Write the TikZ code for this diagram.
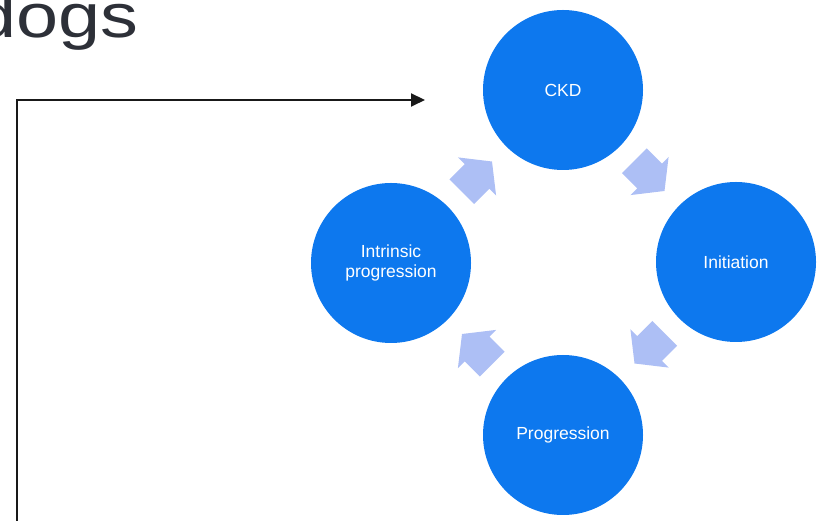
\documentclass[tikz,border=0pt]{standalone}
\usepackage{fontspec}
\setmainfont{Liberation Sans}
\usetikzlibrary{calc,arrows.meta}

\definecolor{stageblue}{RGB}{13,120,238}
\definecolor{flowblue}{RGB}{173,191,245}
\definecolor{titlegray}{RGB}{45,48,56}

\begin{document}
\begin{tikzpicture}
[
    x=1pt, y=1pt,
    stage/.style={circle, fill=stageblue, text=white, minimum size=160pt,
        inner sep=0pt, align=center, font=\fontsize{17.5}{19.5}\selectfont},
    cyclearrow/.pic={\fill[flowblue] (-21.5,-17.5) -- (0,-17.5) -- (0,-27)
        -- (21.2,0) -- (0,27) -- (0,17.5) -- (-21.5,17.5) -- cycle;},
]
\useasboundingbox (0,0) rectangle (821,521);
\node [anchor=base east, text=titlegray, inner sep=0pt, xscale=1.22,
    transform shape, font=\fontsize{62}{62}\selectfont]
    (title) at (139,483) {dogs};
% the four stages of the cycle
\node [stage] (ckd)  at (563,431) {CKD};
\node [stage] (init) at (736,259) {Initiation};
\node [stage] (prog) at (563,86)  {Progression};
\node [stage] (intr) at (391,258) {Intrinsic\\progression};
\pic [rotate=-45]  at ($(ckd)!0.5!(init)$)  {cyclearrow};
\pic [rotate=-135] at ($(init)!0.5!(prog)$) {cyclearrow};
\pic [rotate=135]  at ($(prog)!0.5!(intr)$) {cyclearrow};
\pic [rotate=45]   at ($(intr)!0.5!(ckd)$)  {cyclearrow};
% bracket leading into the cycle
\coordinate (from) at (17,0);
\coordinate (into) at (425,421);
\draw [line width=2pt, black!90, -{Triangle[length=14pt,width=13pt]}]
    (from) |- (into);
\end{tikzpicture}
\end{document}
